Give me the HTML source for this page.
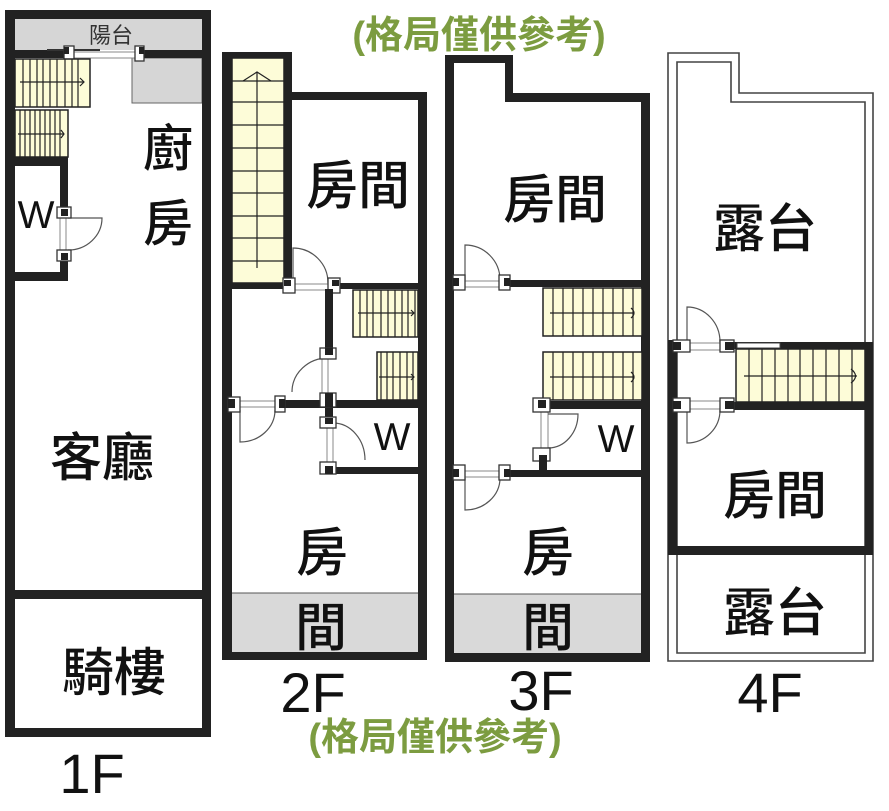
<!DOCTYPE html>
<html><head><meta charset="utf-8"><style>
html,body{margin:0;padding:0;background:#fff;}
svg{display:block;}
.cj{font-family:"Liberation Sans","Noto Sans CJK TC",sans-serif;font-weight:500;fill:#111;}
.lt{font-family:"Liberation Sans",sans-serif;fill:#111;}
.gr{font-family:"Liberation Sans","Noto Sans CJK TC",sans-serif;font-weight:bold;fill:#7c9c40;}
.w{fill:#222;}
.st{fill:#fdfcd8;stroke:#222;stroke-width:1.5;}
.ln{stroke:#222;stroke-width:1.2;fill:none;}
.th{stroke:#888;stroke-width:1;fill:none;}
.dr{stroke:#555;stroke-width:1.2;fill:none;}
.fr{fill:#fff;stroke:#333;stroke-width:1.3;}
</style></head><body>
<svg width="889" height="811" viewBox="0 0 889 811" xmlns="http://www.w3.org/2000/svg">
<rect width="889" height="811" fill="#fff"/>

<!-- ============ 1F ============ -->
<rect x="15" y="19" width="187" height="31" fill="#d6d6d6"/>
<rect x="132" y="58" width="70" height="45" fill="#d6d6d6" stroke="#666" stroke-width="1"/>
<rect class="w" x="5" y="10" width="10" height="727"/>
<rect class="w" x="202" y="10" width="9" height="727"/>
<rect class="w" x="5" y="10" width="206" height="9"/>
<rect class="w" x="5" y="728" width="206" height="9"/>
<rect class="w" x="15" y="50" width="52" height="8"/>
<rect class="w" x="140" y="50" width="62" height="8"/>
<line x1="47" y1="50" x2="100" y2="50" stroke="#333" stroke-width="2"/>
<line class="th" x1="74" y1="52" x2="136" y2="52"/>
<line class="th" x1="74" y1="58" x2="136" y2="58"/>
<rect class="fr" x="64" y="46" width="10" height="15"/>
<rect class="w" x="64" y="47" width="5" height="7"/>
<rect class="fr" x="135" y="46" width="9" height="15"/>
<rect class="w" x="139" y="47" width="5" height="7"/>

<!-- 1F stairs -->
<rect class="st" x="15" y="59" width="75" height="48"/>
<g class="ln">
<line x1="23" y1="59" x2="23" y2="107"/><line x1="30" y1="59" x2="30" y2="107"/><line x1="37" y1="59" x2="37" y2="107"/>
<line x1="43" y1="59" x2="43" y2="107"/><line x1="50" y1="59" x2="50" y2="107"/><line x1="57" y1="59" x2="57" y2="107"/>
<line x1="65" y1="59" x2="65" y2="107"/><line x1="72" y1="59" x2="72" y2="107"/><line x1="78" y1="59" x2="78" y2="107"/>
<line x1="20" y1="82" x2="84" y2="82"/><path d="M80,78 L84,82 L80,86"/>
</g>
<rect class="st" x="15" y="110" width="53" height="47"/>
<g class="ln">
<line x1="20" y1="110" x2="20" y2="157"/><line x1="25" y1="110" x2="25" y2="157"/><line x1="30" y1="110" x2="30" y2="157"/>
<line x1="35" y1="110" x2="35" y2="157"/><line x1="40" y1="110" x2="40" y2="157"/><line x1="45" y1="110" x2="45" y2="157"/>
<line x1="50" y1="110" x2="50" y2="157"/><line x1="55" y1="110" x2="55" y2="157"/><line x1="60" y1="110" x2="60" y2="157"/>
<line x1="18" y1="134" x2="64" y2="134"/><path d="M61,130 L64,134 L61,138"/>
</g>
<!-- 1F W -->
<rect class="w" x="15" y="157" width="53" height="9"/>
<rect class="w" x="60" y="157" width="8" height="52"/>
<rect class="w" x="60" y="258" width="8" height="23"/>
<rect class="w" x="15" y="272" width="53" height="9"/>
<line class="th" x1="60" y1="217" x2="60" y2="252"/>
<line class="th" x1="66" y1="217" x2="66" y2="252"/>
<path class="dr" d="M68,218 H102 A34,32 0 0 1 68,250"/>
<rect class="fr" x="57" y="207" width="14" height="11"/>
<rect class="w" x="61" y="209" width="7" height="7"/>
<rect class="fr" x="57" y="250" width="14" height="11"/>
<rect class="w" x="61" y="253" width="7" height="7"/>
<rect class="w" x="15" y="590" width="187" height="9"/>

<!-- ============ 2F ============ -->
<rect x="232" y="593" width="186" height="59" fill="#d9d9d9"/>
<line x1="232" y1="593" x2="418" y2="593" stroke="#555" stroke-width="1"/>
<rect class="st" x="232" y="58" width="52" height="225"/>
<g class="ln">
<line x1="232" y1="81" x2="284" y2="81"/><line x1="232" y1="102" x2="284" y2="102"/><line x1="232" y1="125" x2="284" y2="125"/>
<line x1="232" y1="148" x2="284" y2="148"/><line x1="232" y1="171" x2="284" y2="171"/><line x1="232" y1="193" x2="284" y2="193"/>
<line x1="232" y1="216" x2="284" y2="216"/><line x1="232" y1="238" x2="284" y2="238"/><line x1="232" y1="261" x2="284" y2="261"/>
<line x1="257" y1="72" x2="257" y2="268"/><path d="M243,81 L257,72 L271,81"/>
</g>
<rect class="w" x="222" y="52" width="10" height="608"/>
<rect class="w" x="222" y="52" width="70" height="6"/>
<rect class="w" x="284" y="52" width="8" height="232"/>
<rect class="w" x="292" y="92" width="135" height="8"/>
<rect class="w" x="418" y="92" width="9" height="568"/>
<rect class="w" x="232" y="283" width="53" height="6"/>
<rect class="w" x="338" y="283" width="80" height="6"/>
<line class="th" x1="294" y1="284" x2="330" y2="284"/>
<line class="th" x1="294" y1="290" x2="330" y2="290"/>
<path class="dr" d="M293,283 V248 A35,35 0 0 1 328,283"/>
<rect class="fr" x="283" y="278" width="12" height="15"/>
<rect class="w" x="284" y="280" width="7" height="6"/>
<rect class="fr" x="328" y="278" width="12" height="15"/>
<rect class="w" x="332" y="280" width="7" height="6"/>
<rect class="w" x="325" y="289" width="8" height="62"/>
<line class="th" x1="322" y1="358" x2="322" y2="395"/>
<line class="th" x1="328" y1="358" x2="328" y2="395"/>
<path class="dr" d="M328,358 A36,34 0 0 0 292,392"/>
<rect class="fr" x="320" y="348" width="16" height="11"/>
<rect class="w" x="325" y="348" width="8" height="7"/>
<!-- 2F stairs right -->
<rect class="st" x="353" y="290" width="65" height="47"/>
<g class="ln">
<line x1="360" y1="290" x2="360" y2="337"/><line x1="367" y1="290" x2="367" y2="337"/><line x1="373" y1="290" x2="373" y2="337"/>
<line x1="381" y1="290" x2="381" y2="337"/><line x1="388" y1="290" x2="388" y2="337"/><line x1="395" y1="290" x2="395" y2="337"/>
<line x1="402" y1="290" x2="402" y2="337"/><line x1="408" y1="290" x2="408" y2="337"/><line x1="415" y1="290" x2="415" y2="337"/>
<line x1="358" y1="313" x2="414" y2="313"/><path d="M411,310 L414,313 L411,316"/>
</g>
<rect class="st" x="377" y="352" width="41" height="48"/>
<g class="ln">
<line x1="381" y1="352" x2="381" y2="400"/><line x1="387" y1="352" x2="387" y2="400"/><line x1="393" y1="352" x2="393" y2="400"/>
<line x1="400" y1="352" x2="400" y2="400"/><line x1="407" y1="352" x2="407" y2="400"/><line x1="413" y1="352" x2="413" y2="400"/>
<line x1="379" y1="377" x2="414" y2="377"/><path d="M411,374 L414,377 L411,380"/>
</g>
<rect class="w" x="280" y="400" width="138" height="8"/>
<rect class="w" x="325" y="393" width="8" height="27"/>
<line class="th" x1="240" y1="401" x2="276" y2="401"/>
<line class="th" x1="240" y1="407" x2="276" y2="407"/>
<path class="dr" d="M240,410 V442 A35,32 0 0 0 275,410"/>
<rect class="fr" x="228" y="397" width="12" height="15"/>
<rect class="w" x="228" y="399" width="7" height="9"/>
<rect class="fr" x="275" y="396" width="10" height="16"/>
<rect class="w" x="279" y="399" width="6" height="9"/>
<rect class="fr" x="320" y="393" width="16" height="14"/>
<rect class="w" x="325" y="393" width="8" height="14"/>
<line class="th" x1="327" y1="425" x2="327" y2="463"/>
<line class="th" x1="333" y1="425" x2="333" y2="463"/>
<path class="dr" d="M333,423 A32,37 0 0 1 365,460"/>
<rect class="fr" x="320" y="417" width="16" height="11"/>
<rect class="w" x="325" y="418" width="8" height="6"/>
<rect class="w" x="333" y="467" width="85" height="7"/>
<rect class="fr" x="320" y="462" width="16" height="12"/>
<rect class="w" x="325" y="466" width="8" height="8"/>
<rect class="w" x="222" y="652" width="205" height="8"/>

<!-- ============ 3F ============ -->
<rect x="454" y="594" width="187" height="59" fill="#d9d9d9"/>
<line x1="454" y1="594" x2="641" y2="594" stroke="#555" stroke-width="1"/>
<rect class="w" x="445" y="55" width="9" height="607"/>
<rect class="w" x="445" y="55" width="68" height="8"/>
<rect class="w" x="505" y="55" width="8" height="47"/>
<rect class="w" x="505" y="93" width="145" height="9"/>
<rect class="w" x="641" y="93" width="9" height="569"/>
<rect class="w" x="505" y="280" width="137" height="7"/>
<line class="th" x1="465" y1="281" x2="500" y2="281"/>
<line class="th" x1="465" y1="287" x2="500" y2="287"/>
<path class="dr" d="M465,280 V245 A35,35 0 0 1 500,280"/>
<rect class="fr" x="453" y="275" width="12" height="15"/>
<rect class="w" x="453" y="278" width="6" height="8"/>
<rect class="fr" x="499" y="275" width="11" height="15"/>
<rect class="w" x="504" y="278" width="6" height="8"/>
<rect class="st" x="543" y="288" width="99" height="48"/>
<g class="ln">
<line x1="553" y1="288" x2="553" y2="336"/><line x1="563" y1="288" x2="563" y2="336"/><line x1="573" y1="288" x2="573" y2="336"/>
<line x1="583" y1="288" x2="583" y2="336"/><line x1="593" y1="288" x2="593" y2="336"/><line x1="603" y1="288" x2="603" y2="336"/>
<line x1="613" y1="288" x2="613" y2="336"/><line x1="623" y1="288" x2="623" y2="336"/><line x1="633" y1="288" x2="633" y2="336"/>
<line x1="550" y1="313" x2="634" y2="313"/><path d="M631,308 Q637,313 631,318"/>
</g>
<rect class="st" x="543" y="352" width="99" height="48"/>
<g class="ln">
<line x1="553" y1="352" x2="553" y2="400"/><line x1="563" y1="352" x2="563" y2="400"/><line x1="573" y1="352" x2="573" y2="400"/>
<line x1="583" y1="352" x2="583" y2="400"/><line x1="593" y1="352" x2="593" y2="400"/><line x1="603" y1="352" x2="603" y2="400"/>
<line x1="613" y1="352" x2="613" y2="400"/><line x1="623" y1="352" x2="623" y2="400"/><line x1="633" y1="352" x2="633" y2="400"/>
<line x1="550" y1="377" x2="634" y2="377"/><path d="M631,372 Q637,377 631,382"/>
</g>
<rect class="w" x="537" y="401" width="105" height="8"/>
<line class="th" x1="541" y1="412" x2="541" y2="450"/>
<line class="th" x1="548" y1="412" x2="548" y2="450"/>
<path class="dr" d="M548,414 H578 A30,34 0 0 1 548,448"/>
<rect class="fr" x="533" y="398" width="17" height="14"/>
<rect class="w" x="538" y="400" width="8" height="8"/>
<rect class="fr" x="533" y="448" width="17" height="13"/>
<rect class="w" x="539" y="455" width="8" height="15"/>
<rect class="w" x="505" y="470" width="137" height="7"/>
<line class="th" x1="465" y1="471" x2="500" y2="471"/>
<line class="th" x1="465" y1="477" x2="500" y2="477"/>
<path class="dr" d="M465,478 V510 A35,32 0 0 0 500,478"/>
<rect class="fr" x="453" y="465" width="12" height="15"/>
<rect class="w" x="453" y="469" width="6" height="8"/>
<rect class="fr" x="499" y="465" width="11" height="15"/>
<rect class="w" x="504" y="469" width="6" height="8"/>
<rect class="w" x="445" y="653" width="205" height="9"/>

<!-- ============ 4F ============ -->
<path d="M668,661 V53 H739 V93 H873 V661 Z" fill="none" stroke="#444" stroke-width="1.6"/>
<path d="M677,653 V62 H731 V102 H865 V653 Z" fill="none" stroke="#444" stroke-width="1.6"/>
<rect class="w" x="668" y="340" width="9" height="215"/>
<rect class="w" x="865" y="342" width="8" height="213"/>
<rect class="w" x="668" y="546" width="205" height="9"/>
<rect class="w" x="723" y="342" width="150" height="7"/>
<rect x="737" y="343" width="43" height="5" fill="#fff" stroke="#444" stroke-width="1"/>
<rect class="st" x="736" y="349" width="129" height="53"/>
<g class="ln">
<line x1="749" y1="349" x2="749" y2="402"/><line x1="762" y1="349" x2="762" y2="402"/><line x1="775" y1="349" x2="775" y2="402"/>
<line x1="788" y1="349" x2="788" y2="402"/><line x1="800" y1="349" x2="800" y2="402"/><line x1="813" y1="349" x2="813" y2="402"/>
<line x1="826" y1="349" x2="826" y2="402"/><line x1="839" y1="349" x2="839" y2="402"/><line x1="852" y1="349" x2="852" y2="402"/>
<line x1="744" y1="376" x2="857" y2="376"/><path d="M851,369 Q860,376 851,383"/>
</g>
<rect class="w" x="723" y="402" width="150" height="8"/>
<line class="th" x1="690" y1="343" x2="720" y2="343"/>
<line class="th" x1="690" y1="350" x2="720" y2="350"/>
<line class="th" x1="690" y1="401" x2="720" y2="401"/>
<line class="th" x1="690" y1="409" x2="720" y2="409"/>
<path class="dr" d="M687,342 V307 A33,35 0 0 1 720,342"/>
<path class="dr" d="M687,410 V443 A33,33 0 0 0 720,410"/>
<rect class="fr" x="673" y="340" width="17" height="12"/>
<rect class="w" x="673" y="342" width="8" height="8"/>
<rect class="fr" x="720" y="340" width="14" height="12"/>
<rect class="w" x="725" y="342" width="9" height="8"/>
<rect class="fr" x="673" y="398" width="17" height="14"/>
<rect class="w" x="673" y="401" width="8" height="8"/>
<rect class="fr" x="720" y="398" width="14" height="14"/>
<rect class="w" x="725" y="401" width="9" height="8"/>

<!-- ============ TEXT ============ -->
<text class="gr" x="479" y="48" font-size="38" text-anchor="middle">(格局僅供參考)</text>
<text class="gr" x="435" y="750" font-size="38" text-anchor="middle">(格局僅供參考)</text>

<text class="cj" x="111" y="43" font-size="22" text-anchor="middle" style="font-weight:400;fill:#333">陽台</text>
<text class="cj" x="168" y="166" font-size="50" text-anchor="middle">廚</text>
<text class="cj" x="168" y="241" font-size="50" text-anchor="middle">房</text>
<text class="lt" x="36" y="228" font-size="39" text-anchor="middle">W</text>
<text class="cj" x="102" y="476" font-size="52" text-anchor="middle">客廳</text>
<text class="cj" x="114" y="691" font-size="52" text-anchor="middle">騎樓</text>
<text class="lt" x="92" y="793" font-size="56" text-anchor="middle">1F</text>

<text class="cj" x="358" y="204" font-size="52" text-anchor="middle">房間</text>
<text class="lt" x="392" y="450" font-size="39" text-anchor="middle">W</text>
<text class="cj" x="322" y="571" font-size="52" text-anchor="middle">房</text>
<text class="cj" x="321" y="646" font-size="52" text-anchor="middle">間</text>
<text class="lt" x="313" y="712" font-size="56" text-anchor="middle">2F</text>

<text class="cj" x="555" y="218" font-size="52" text-anchor="middle">房間</text>
<text class="lt" x="616" y="452" font-size="39" text-anchor="middle">W</text>
<text class="cj" x="548" y="571" font-size="52" text-anchor="middle">房</text>
<text class="cj" x="548" y="646" font-size="52" text-anchor="middle">間</text>
<text class="lt" x="541" y="710" font-size="56" text-anchor="middle">3F</text>

<text class="cj" x="765" y="247" font-size="52" text-anchor="middle">露台</text>
<text class="cj" x="775" y="514" font-size="52" text-anchor="middle">房間</text>
<text class="cj" x="775" y="631" font-size="52" text-anchor="middle">露台</text>
<text class="lt" x="770" y="712" font-size="56" text-anchor="middle">4F</text>
</svg>
</body></html>
